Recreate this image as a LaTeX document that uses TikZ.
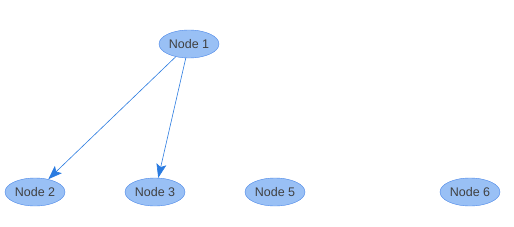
\documentclass[tikz,border=0pt]{standalone}
\usepackage{fontspec}
\setmainfont{Liberation Sans}
\usetikzlibrary{shapes.geometric,arrows.meta}
\definecolor{nodefill}{HTML}{99C0F5}
\definecolor{nodeline}{HTML}{4A86E8}
\definecolor{edgeblue}{HTML}{2A7BE0}
\begin{document}
\begin{tikzpicture}[
                x=1pt, y=1pt,
                >={Stealth[length=14pt, width=10pt, inset=3pt]},
                vertex/.style={ellipse, draw=nodeline, fill=nodefill, minimum width=60pt, minimum height=28pt, inner sep=0pt, text=black!75},
                edge/.style={->, edgeblue, line width=0.6pt},
                font=\fontsize{12.5}{14}\selectfont
            ]
            \useasboundingbox (0,0) rectangle (514,226);

            % 节点
            \node[vertex] (n1) at (189,182) {Node 1};
            \node[vertex] (n2) at (35,34) {Node 2};
            \node[vertex] (n3) at (155,34) {Node 3};
            \node[vertex] (n5) at (275,34) {Node 5};
            \node[vertex] (n6) at (470,34) {Node 6};

            % 连线
            \draw[edge] (n1) -- (n2);
            \draw[edge] (n1) -- (n3);
        \end{tikzpicture}
\end{document}
